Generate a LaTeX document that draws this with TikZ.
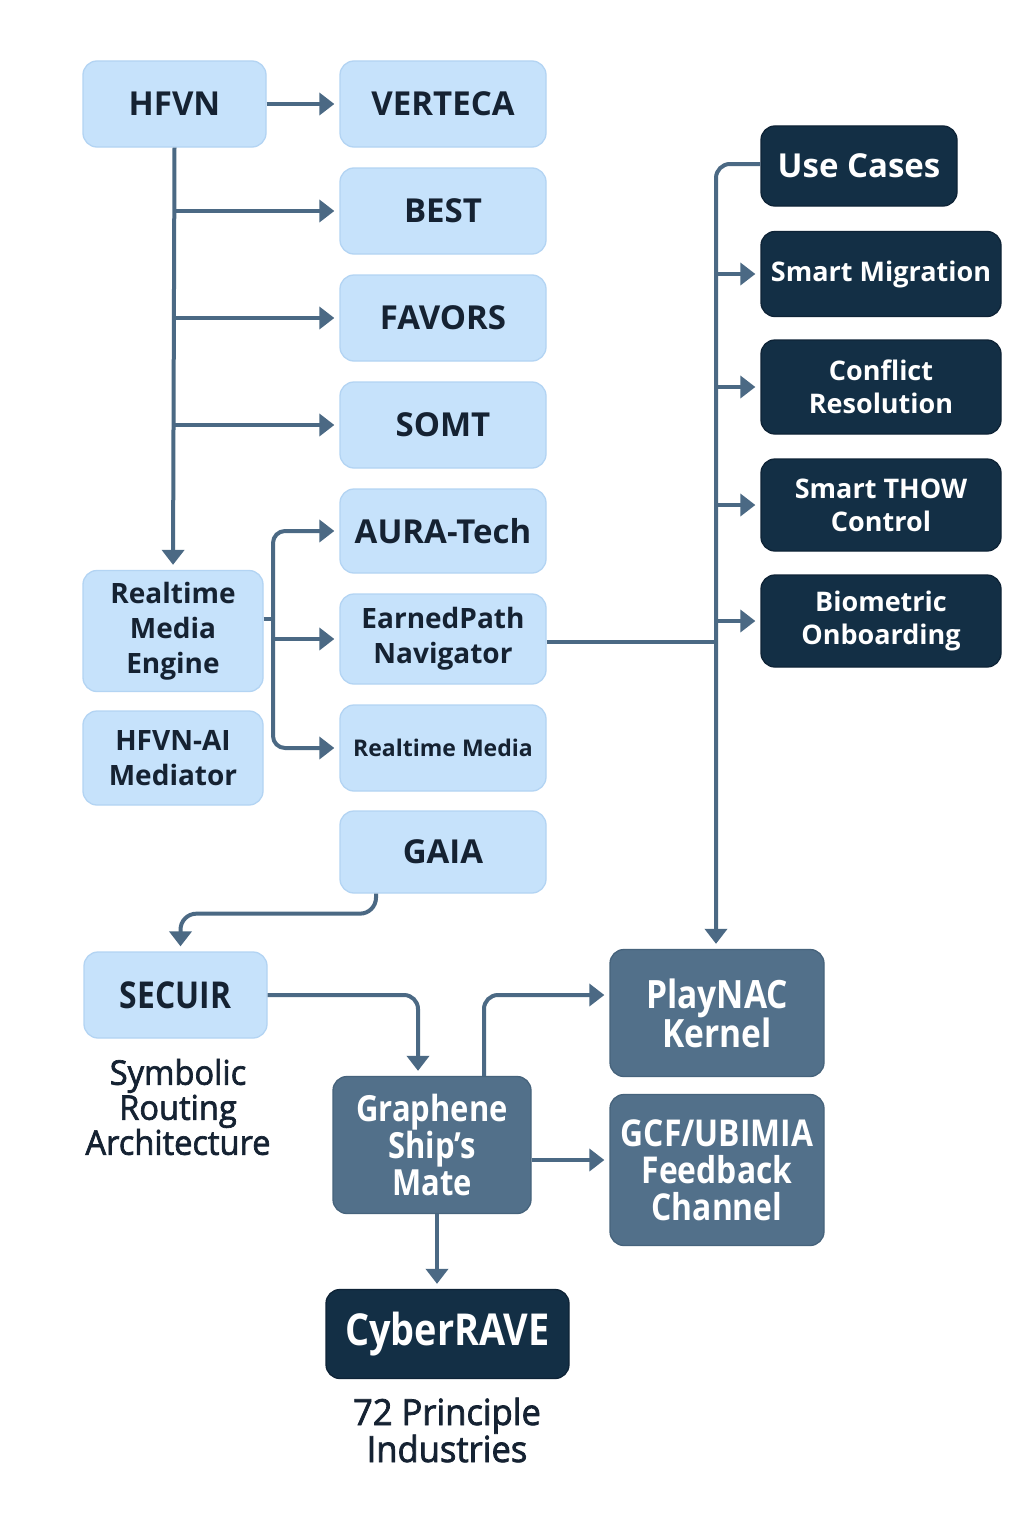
\documentclass[tikz,border=0pt]{standalone}
\usepackage{fontspec}
\setmainfont{Open Sans}
\newfontfamily\condfont{Open Sans}[FakeStretch=0.86]
\newfontfamily\condmed{Open Sans}[FakeStretch=0.96,FakeBold=2]
\usetikzlibrary{arrows.meta}
\definecolor{lightfill}{HTML}{C6E2FB}
\definecolor{lightedge}{HTML}{B3D4F3}
\definecolor{navy}{HTML}{132F45}
\definecolor{navyedge}{HTML}{0E2336}
\definecolor{slate}{HTML}{52708A}
\definecolor{slateedge}{HTML}{46637C}
\definecolor{linec}{HTML}{4B6984}
\definecolor{txtdark}{HTML}{152232}
\tikzset{
  basebox/.style={rounded corners=14pt, line width=1.3pt, align=center, inner sep=0pt},
  lbox/.style={basebox, draw=lightedge, fill=lightfill, text=txtdark},
  dbox/.style={basebox, draw=navyedge, fill=navy, text=white},
  mbox/.style={basebox, draw=slateedge, fill=slate, text=white},
  conn/.style={draw=linec, line width=4pt, -{Triangle[length=15pt,width=22pt]}, shorten >=5pt},
  plainline/.style={draw=linec, line width=4pt},
  lbl/.style={text=txtdark, align=center, inner sep=0pt},
  bigf/.style={font=\bfseries\fontsize{33}{38}\selectfont},
  midf/.style={font=\bfseries\fontsize{28}{35}\selectfont},
  smf/.style={font=\bfseries\fontsize{27}{33}\selectfont},
}
\begin{document}
\begin{tikzpicture}[x=1pt,y=-1pt]
\useasboundingbox[fill=white] (0,0) rectangle (1024,1536);
% left column boxes
\node[lbox,bigf,minimum width=183pt,minimum height=86pt] (hfvn) at (174.5,104) {HFVN};
\node[lbox,bigf,minimum width=206pt,minimum height=86pt] (verteca) at (443,104) {VERTECA};
\node[lbox,bigf,minimum width=206pt,minimum height=86pt] (best) at (443,211) {BEST};
\node[lbox,bigf,minimum width=206pt,minimum height=86pt] (favors) at (443,318) {FAVORS};
\node[lbox,bigf,minimum width=206pt,minimum height=86pt] (somt) at (443,425) {SOMT};
\node[lbox,bigf,minimum width=206pt,minimum height=84pt] (aura) at (443,531) {AURA-Tech};
\node[lbox,midf,minimum width=206pt,minimum height=90pt] (ep) at (443,639) {EarnedPath\\Navigator};
\node[lbox,font=\bfseries\fontsize{23}{27}\selectfont,minimum width=206pt,minimum height=86pt] (rm) at (443,748) {Realtime Media};
\node[lbox,bigf,minimum width=206pt,minimum height=82pt] (gaia) at (443,852) {GAIA};
\node[lbox,midf,minimum width=180pt,minimum height=121pt] (rme) at (173,631) {Realtime\\Media\\Engine};
\node[lbox,midf,minimum width=180pt,minimum height=94pt] (hai) at (173,758) {HFVN-AI\\Mediator};
% right column
\node[dbox,font=\bfseries\fontsize{33}{38}\selectfont,minimum width=196pt,minimum height=80pt] (uc) at (859,166) {Use Cases};
\node[dbox,smf,minimum width=240pt,minimum height=85pt] (sm) at (881,274) {Smart Migration};
\node[dbox,smf,minimum width=240pt,minimum height=94pt] (cfr) at (881,387) {Conflict\\Resolution};
\node[dbox,smf,minimum width=240pt,minimum height=92pt] (thow) at (881,505) {Smart THOW\\Control};
\node[dbox,smf,minimum width=240pt,minimum height=92pt] (bio) at (881,621) {Biometric\\Onboarding};
% bottom
\node[lbox,font=\condfont\bfseries\fontsize{37}{40}\selectfont,minimum width=183pt,minimum height=86pt] (secuir) at (175.5,995) {SECUIR};
\node[lbl,font=\condmed\fontsize{34}{35}\selectfont] (sra) at (178,1107) {Symbolic\\Routing\\Architecture};
\node[mbox,font=\condfont\bfseries\fontsize{36}{37}\selectfont,minimum width=198pt,minimum height=137pt] (gsm) at (432,1145) {Graphene\\Ship’s\\Mate};
\node[mbox,font=\condfont\bfseries\fontsize{39}{39}\selectfont,minimum width=214pt,minimum height=127pt] (pn) at (717,1013) {PlayNAC\\Kernel};
\node[mbox,font=\condfont\bfseries\fontsize{37}{37}\selectfont,minimum width=214pt,minimum height=151pt] (gcf) at (717,1170) {GCF/UBIMIA\\Feedback\\Channel};
\node[dbox,font=\condfont\bfseries\fontsize{44}{46}\selectfont,minimum width=243pt,minimum height=89pt] (cr) at (447.5,1334) {CyberRAVE};
\node[lbl,font=\condmed\fontsize{36}{37}\selectfont] (ind) at (447,1430) {72 Principle\\Industries};
% connectors: HFVN
\draw[conn] (hfvn.east) -- (verteca.west);
\draw[conn] (hfvn.south) -- (rme.north);
\draw[conn] (hfvn.south |- best.west) -- (best.west);
\draw[conn] (hfvn.south |- favors.west) -- (favors.west);
\draw[conn] (hfvn.south |- somt.west) -- (somt.west);
% RME bus
\coordinate (rb) at (273,619);
\draw[plainline] ([yshift=12pt]rme.east) -- (rb);
\draw[conn,rounded corners=12pt] (rb |- ep.west) -- (rb |- aura.west) -- (aura.west);
\draw[conn,rounded corners=12pt] (rb |- ep.west) -- (rb |- rm.west) -- (rm.west);
\draw[conn] (rb |- ep.west) -- (ep.west);
% right trunk
\coordinate (tb) at (716,642);
\draw[conn,rounded corners=14pt] ([yshift=2pt]uc.west) -| (tb |- pn.north);
\draw[conn] (tb |- sm.west) -- (sm.west);
\draw[conn] (tb |- cfr.west) -- (cfr.west);
\draw[conn] (tb |- thow.west) -- (thow.west);
\draw[conn] (tb |- bio.west) -- (bio.west);
\draw[plainline] ([yshift=-3pt]ep.east) -- (tb);
% GAIA -> SECUIR
\draw[conn,rounded corners=16pt] ([xshift=-67pt]gaia.south) -- ++(0,20) -| ([xshift=5pt]secuir.north);
% SECUIR -> Graphene
\draw[conn,rounded corners=14pt] (secuir.east) -| ([xshift=-14pt]gsm.north);
% Graphene -> PlayNAC
\draw[conn,rounded corners=14pt] ([xshift=52pt]gsm.north) |- ([yshift=18pt]pn.west);
% Graphene -> GCF
\coordinate (gout) at ([yshift=-15pt]gsm.east);
\draw[conn] (gout) -- (gout -| gcf.west);
% Graphene -> CyberRAVE
\draw[conn] ([xshift=5pt]gsm.south) -- ([xshift=5pt]gsm.south |- cr.north);
\end{tikzpicture}
\end{document}
